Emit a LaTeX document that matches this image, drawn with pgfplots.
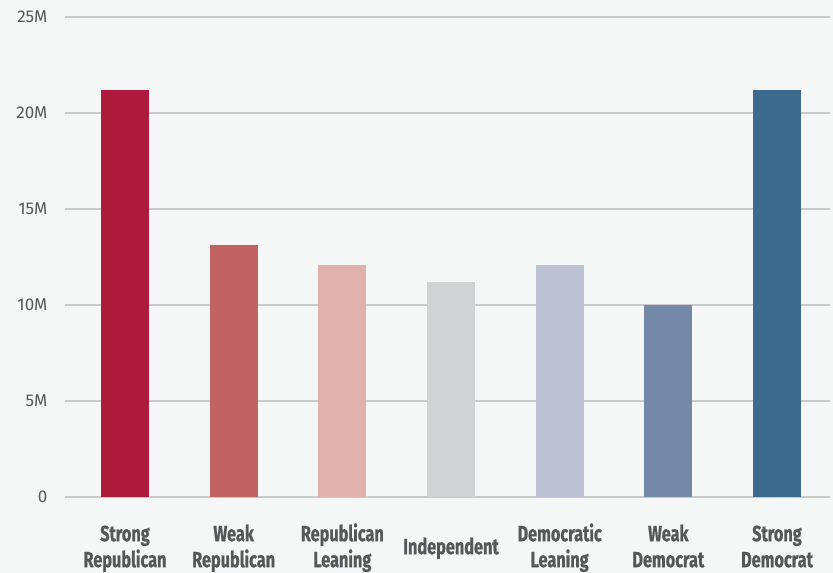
\documentclass[border=0pt]{standalone}
\usepackage{pgfplots}
\pgfplotsset{compat=1.18}
\usepackage{fontspec}
\setmainfont{Fira Sans}
\newfontfamily\labelfont[FakeStretch=0.74, BoldFeatures={FakeBold=0.8}]{Fira Sans}

\definecolor{bgc}{HTML}{F5F7F7}
\definecolor{gridc}{HTML}{C8C9C9}
\definecolor{textc}{HTML}{555758}
\definecolor{sr}{HTML}{AE1A3B}
\definecolor{wr}{HTML}{C16362}
\definecolor{rl}{HTML}{E0B1AD}
\definecolor{ind}{HTML}{D0D3D4}
\definecolor{dl}{HTML}{BBC1D3}
\definecolor{wd}{HTML}{7488A7}
\definecolor{sd}{HTML}{3D6A8F}

\begin{document}
\begin{tikzpicture}
\fill[bgc] (-65pt,-76pt) rectangle (768pt,497pt);
\begin{axis}[
  at={(0pt,0pt)}, anchor=south west,
  scale only axis,
  width=765pt, height=480pt,
  xmin=-0.552, xmax=6.488,
  ymin=0, ymax=25,
  axis line style={draw=none},
  ytick={0,5,10,15,20,25},
  yticklabels={0,5M,10M,15M,20M,25M},
  xtick={0,1,2,3,4,5,6},
  xticklabels={\strut Strong\\\strut Republican, \strut Weak\\\strut Republican, \strut Republican\\\strut Leaning, \strut Independent, \strut Democratic\\\strut Leaning, \strut Weak\\\strut Democrat, \strut Strong\\\strut Democrat},
  ymajorgrids,
  major grid style={gridc, line width=1.3pt},
  major tick length=0pt,
  tick style={draw=none},
  yticklabel style={font=\fontsize{17}{20}\selectfont, text=textc, anchor=east, xshift=-14pt},
  xticklabel style={font=\labelfont\bfseries\fontsize{22}{26}\selectfont, text=textc, align=center, anchor=center, yshift=-52pt},
  clip=false,
]
\addplot[ybar, bar width=48pt, draw=none, fill=sr]  coordinates {(0,21.2)};
\addplot[ybar, bar width=48pt, draw=none, fill=wr]  coordinates {(1,13.1)};
\addplot[ybar, bar width=48pt, draw=none, fill=rl]  coordinates {(2,12.1)};
\addplot[ybar, bar width=48pt, draw=none, fill=ind] coordinates {(3,11.2)};
\addplot[ybar, bar width=48pt, draw=none, fill=dl]  coordinates {(4,12.1)};
\addplot[ybar, bar width=48pt, draw=none, fill=wd]  coordinates {(5,10.0)};
\addplot[ybar, bar width=48pt, draw=none, fill=sd]  coordinates {(6,21.2)};
\end{axis}
\pgfresetboundingbox
\useasboundingbox (-65pt,-76pt) rectangle (768pt,497pt);
\end{tikzpicture}
\end{document}
